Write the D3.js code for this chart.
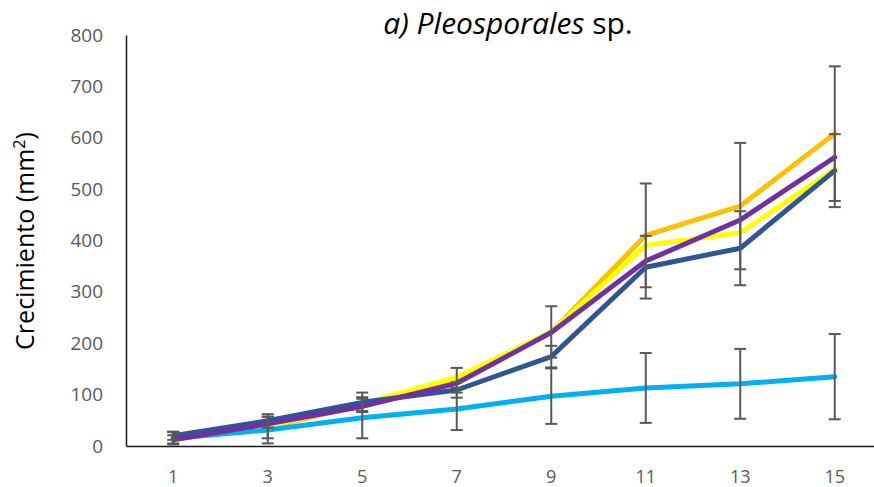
<!DOCTYPE html>
<html>
<head>
<meta charset="utf-8">
<script src="https://cdn.jsdelivr.net/npm/d3@7"></script>
<style>
  body { margin: 0; background: #fff; }
  svg { display: block; font-family: "Open Sans", sans-serif; }
</style>
</head>
<body>
<svg id="chart"></svg>
<script>
// days of growth (x categories)
const days = ["1", "3", "5", "7", "9", "11", "13", "15"];

// growth values (mm2) per series
const darkBlue  = [20, 49, 85, 109, 174, 348, 385, 536];
const lightBlue = [15, 31, 55, 72, 97, 113, 121, 135];
const yellow    = [14, 38, 82, 134, 222, 391, 415, 539];
const orange    = [13, 36, 80, 128, 222, 410, 467, 608];
const purple    = [12, 43, 77, 122, 221, 360, 440, 562];

// error bar half-widths
const darkBlueErr  = [8, 13, 19, 15, 21, 61, 72, 71];
const orangeErr    = [8, 21, 12, 24, 50, 101, 123, 131];
const lightBlueErr = [12, 26, 40, 41, 54, 68, 68, 83];

const yTicks = [0, 100, 200, 300, 400, 500, 600, 700, 800];

const W = 874, H = 487;
const svg = d3.select("#chart").attr("width", W).attr("height", H);

// scales
const x = d3.scaleBand().domain(days).range([126, 882]);
const y = d3.scaleLinear().domain([0, 800]).range([446, 35]);
const cx = (d) => x(d) + x.bandwidth() / 2;

// y axis
const yAxis = svg.append("g")
  .attr("transform", "translate(126,0)")
  .call(d3.axisLeft(y).tickValues(yTicks).tickSize(0).tickPadding(23));
yAxis.select(".domain").attr("stroke", "#1a1a1a").attr("stroke-width", 1.5);
yAxis.selectAll("text")
  .attr("fill", "#595959")
  .attr("font-size", 19)
  .attr("font-family", "Open Sans, sans-serif");

// x axis
const xAxis = svg.append("g")
  .attr("transform", "translate(0,446)")
  .call(d3.axisBottom(x).tickSize(0).tickPadding(24));
xAxis.select(".domain").attr("stroke", "#1a1a1a").attr("stroke-width", 1.5);
xAxis.selectAll("text")
  .attr("fill", "#595959")
  .attr("font-size", 18)
  .attr("font-family", "Open Sans, sans-serif");

// axis title
svg.append("text")
  .attr("transform", "translate(34,241) rotate(-90)")
  .attr("text-anchor", "middle")
  .attr("font-size", 25)
  .attr("fill", "#000")
  .html('Crecimiento (mm<tspan dy="-9" font-size="16">2</tspan><tspan dy="9">)</tspan>');

// chart title
const title = svg.append("text")
  .attr("x", 508)
  .attr("y", 34)
  .attr("text-anchor", "middle")
  .attr("font-size", 30)
  .attr("fill", "#000");
title.append("tspan").attr("font-style", "italic").text("a) Pleosporales");
title.append("tspan").text(" sp.");

// lines
const series = [
  { vals: orange, color: "#FFC000" },
  { vals: yellow, color: "#FFFF00" },
  { vals: lightBlue, color: "#00B0F0" },
  { vals: darkBlue, color: "#2F5597" },
  { vals: purple, color: "#7030A0" }
];

const line = d3.line()
  .x((d, i) => cx(days[i]))
  .y((d) => y(d));

svg.append("g").selectAll("path")
  .data(series)
  .join("path")
  .attr("d", (s) => line(s.vals))
  .attr("fill", "none")
  .attr("stroke", (s) => s.color)
  .attr("stroke-width", 5)
  .attr("stroke-linejoin", "round")
  .attr("stroke-linecap", "round");

// error bars
const errs = [
  { vals: orange, err: orangeErr },
  { vals: darkBlue, err: darkBlueErr },
  { vals: lightBlue, err: lightBlueErr }
];
const bars = [];
errs.forEach((s) => {
  s.vals.forEach((v, i) => bars.push({ day: days[i], lo: v - s.err[i], hi: v + s.err[i] }));
});

const eb = svg.append("g")
  .attr("stroke", "#595959")
  .attr("stroke-width", 2);
eb.selectAll(".stem")
  .data(bars)
  .join("line")
  .attr("x1", (d) => cx(d.day)).attr("x2", (d) => cx(d.day))
  .attr("y1", (d) => y(Math.max(0, d.lo))).attr("y2", (d) => y(d.hi));
eb.selectAll(".capHi")
  .data(bars)
  .join("line")
  .attr("x1", (d) => cx(d.day) - 6).attr("x2", (d) => cx(d.day) + 6)
  .attr("y1", (d) => y(d.hi)).attr("y2", (d) => y(d.hi));
eb.selectAll(".capLo")
  .data(bars)
  .join("line")
  .attr("x1", (d) => cx(d.day) - 6).attr("x2", (d) => cx(d.day) + 6)
  .attr("y1", (d) => y(Math.max(0, d.lo))).attr("y2", (d) => y(Math.max(0, d.lo)));
</script>
</body>
</html>
